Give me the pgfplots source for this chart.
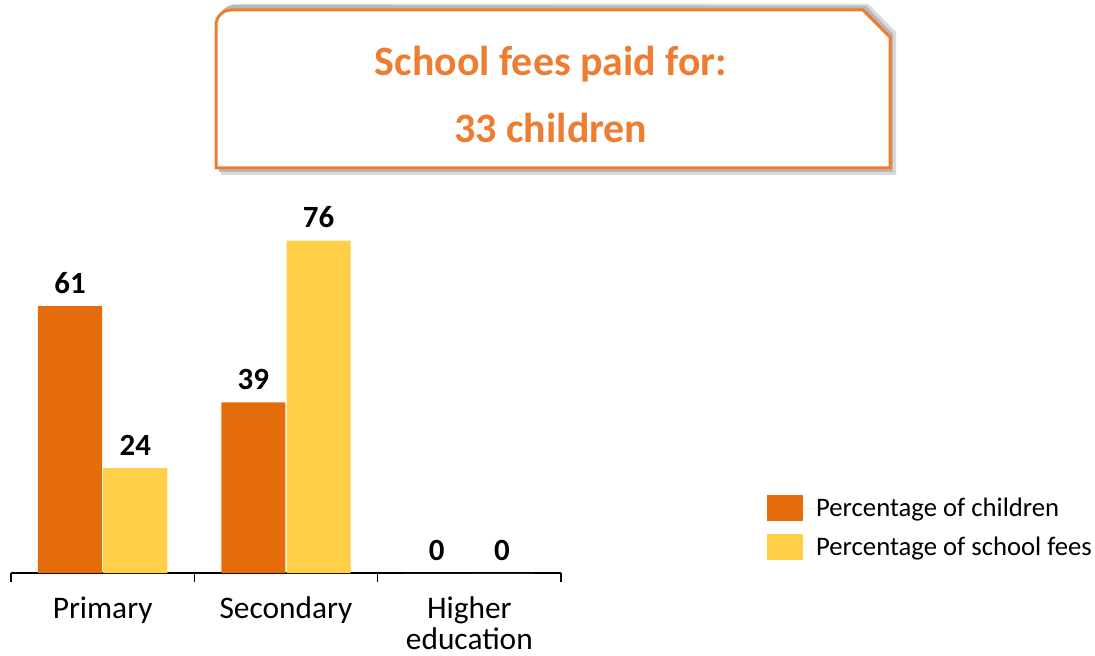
\documentclass[border=0pt]{standalone}
\usepackage{pgfplots}
\pgfplotsset{compat=1.18}
\usepackage{fontspec}
\setmainfont{Carlito}
\definecolor{barorange}{HTML}{E46C0A}
\definecolor{baryellow}{HTML}{FFCF48}
\definecolor{titleorange}{HTML}{ED7D31}
\begin{document}
\begin{tikzpicture}
\path[use as bounding box] (0,0) rectangle (1095bp,656bp);
\begin{scope}[x=1bp,y=1bp]
  % shadow
  \fill[black!15] (221,481) -- (221,637) arc[start angle=180,end angle=90,radius=15] -- (868,652) -- (896,624) -- (896,481) -- cycle;
  \fill[black!28] (219,484) -- (219,636) arc[start angle=180,end angle=90,radius=15] -- (866,650) -- (893,622) -- (893,484) -- cycle;
  % box
  \draw[titleorange, line width=3bp, fill=white] (216,488) -- (216,631) arc[start angle=180,end angle=90,radius=15] -- (863,646) -- (890,619) -- (890,488) -- cycle;
  \node[anchor=base, text=titleorange, font=\bfseries\fontsize{42}{42}\selectfont, inner sep=0pt] at (551,580) {School fees paid for:};
  \node[anchor=base, text=titleorange, font=\bfseries\fontsize{42}{42}\selectfont, inner sep=0pt] at (551,513) {33 children};
\end{scope}
\begin{axis}[
  at={(11bp,83bp)}, anchor=south west,
  scale only axis, width=550bp, height=350bp,
  xmin=-0.5, xmax=2.5, ymin=0, ymax=80,
  axis x line*=bottom, axis y line=none,
  ytick=\empty,
  xtick={0,1,2},
  xticklabels={Primary,Secondary,{Higher\\education}},
  major x tick style={draw=none},
  minor xtick={-0.5,0.5,1.5,2.5},
  minor tick length=9bp, tick align=outside,
  x axis line style={black, line width=1.2bp},
  minor x tick style={black, line width=1.2bp},
  xticklabel style={font=\fontsize{31.5}{31.5}\selectfont, align=center, text=black, inner sep=0pt, yshift=-19bp},
  /pgf/number format/assume math mode=true,
  ybar, bar width=0.35,
  nodes near coords,
  every node near coord/.append style={font=\bfseries\fontsize{31}{31}\selectfont, yshift=9bp, text=black},
  clip=false,
  legend style={at={(1.3745,0.2229)}, anchor=north west, draw=none, fill=none, inner sep=0pt,
    font=\fontsize{26.8}{30}\selectfont, row sep=13bp,
    nodes={inner sep=0pt}},
  legend cell align=left,
  legend image code/.code={\fill[#1] (0bp,-13bp) rectangle (36bp,13bp); \path (36bp,0) -- (49bp,0);},
]
\addplot[fill=barorange, draw=none, bar shift=-0.178] coordinates {(0,61) (1,39) (2,0)};
\addplot[fill=baryellow, draw=none, bar shift=0.178] coordinates {(0,24) (1,76) (2,0)};
\legend{Percentage of children, Percentage of school fees}
\end{axis}
\end{tikzpicture}
\end{document}
